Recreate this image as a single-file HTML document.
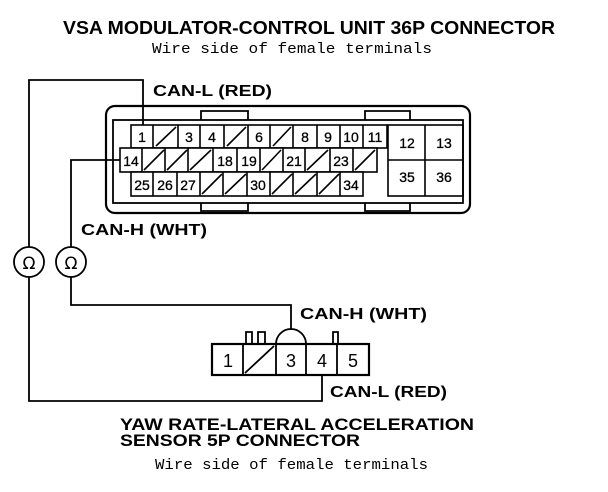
<!DOCTYPE html>
<html><head><style>
body{margin:0;background:#fff;}
svg{display:block}
.b{font-family:"Liberation Sans",sans-serif;font-weight:bold;}
.m{font-family:"Liberation Mono",monospace;}
</style></head><body>
<svg width="608" height="492" viewBox="0 0 608 492" xmlns="http://www.w3.org/2000/svg">
<g fill="#000">
<text x="63" y="34" class="b" font-size="18" textLength="492" lengthAdjust="spacingAndGlyphs">VSA MODULATOR-CONTROL UNIT 36P CONNECTOR</text>
<text x="152" y="53" class="m" font-size="15" textLength="280" lengthAdjust="spacingAndGlyphs">Wire side of female terminals</text>
<text x="153" y="96" class="b" font-size="16" textLength="119" lengthAdjust="spacingAndGlyphs">CAN-L (RED)</text>
<text x="81" y="235" class="b" font-size="16" textLength="126" lengthAdjust="spacingAndGlyphs">CAN-H (WHT)</text>
<text x="300" y="319" class="b" font-size="16" textLength="127" lengthAdjust="spacingAndGlyphs">CAN-H (WHT)</text>
<text x="330" y="397" class="b" font-size="16" textLength="117" lengthAdjust="spacingAndGlyphs">CAN-L (RED)</text>
<text x="120" y="430" class="b" font-size="17" textLength="354" lengthAdjust="spacingAndGlyphs">YAW RATE-LATERAL ACCELERATION</text>
<text x="120" y="446" class="b" font-size="17" textLength="240" lengthAdjust="spacingAndGlyphs">SENSOR 5P CONNECTOR</text>
<text x="155" y="469" class="m" font-size="15" textLength="273" lengthAdjust="spacingAndGlyphs">Wire side of female terminals</text>
</g>
<g fill="none" stroke="#000" stroke-width="2.2">
<rect x="106" y="106" width="364" height="107" rx="9"/>
<rect x="113" y="120" width="350" height="83" stroke-width="1.8"/>
</g>
<g stroke="#000" stroke-width="1.8">
<path d="M201 120V111H248V120M365 120V111H410V120M201 203V211H248V203M365 203V211H410V203" fill="none"/>
</g>
<g stroke="#000" stroke-width="1.6" fill="none">
<rect x="131" y="125" width="256" height="23"/>
<path d="M153 125V148M178 125V148M200 125V148M224 125V148M248 125V148M270 125V148M293 125V148M317 125V148M340 125V148M363 125V148"/>
<path d="M156 146L176 127M227 146L246 127M273 146L291 127"/>
<rect x="120" y="148" width="257" height="24" fill="#fff"/>
<path d="M142 148V172M165 148V172M188 148V172M213 148V172M237 148V172M260 148V172M283 148V172M305 148V172M330 148V172M353 148V172"/>
<path d="M144 170L164 150M167 170L187 150M190 170L211 150M262 170L281 150M307 170L328 150M355 170L375 150"/>
<rect x="131" y="172" width="232" height="24" fill="#fff"/>
<path d="M153 172V196M177 172V196M200 172V196M223 172V196M247 172V196M270 172V196M293 172V196M317 172V196M340 172V196"/>
<path d="M202 194L222 174M225 194L246 174M272 194L292 174M295 194L316 174M319 194L339 174"/>
<rect x="388" y="125" width="75" height="71"/>
<path d="M425 125V196M388 160H463"/>
</g>
<g font-family="Liberation Sans,sans-serif" font-size="14" text-anchor="middle" fill="#000" stroke="#000" stroke-width="0.3">
<text x="142" y="142">1</text><text x="189" y="142">3</text><text x="212" y="142">4</text><text x="259" y="142">6</text><text x="305" y="142">8</text><text x="328" y="142">9</text><text x="351" y="142">10</text><text x="375" y="142">11</text>
<text x="131" y="166">14</text><text x="225" y="166">18</text><text x="249" y="166">19</text><text x="294" y="166">21</text><text x="341" y="166">23</text>
<text x="142" y="190">25</text><text x="165" y="190">26</text><text x="188" y="190">27</text><text x="258" y="190">30</text><text x="351" y="190">34</text>
<text x="407" y="148">12</text><text x="444" y="148">13</text><text x="407" y="182">35</text><text x="444" y="182">36</text>
</g>
<g stroke="#000" stroke-width="1.8" fill="none">
<path d="M246 344V332H252V344M258 344V332H265V344M333 344V332H338V344"/>
<path d="M276 344A15 15 0 0 1 306 344" fill="#fff"/>
<rect x="212" y="344" width="157" height="31" stroke-width="2.2"/>
<path d="M243 344V375M276 344V375M306 344V375M337 344V375M245 373L274 346"/>
</g>
<g font-family="Liberation Sans,sans-serif" font-size="18" text-anchor="middle" fill="#000">
<text x="228" y="367">1</text><text x="291" y="367">3</text><text x="322" y="367">4</text><text x="353" y="367">5</text>
</g>
<g stroke="#000" stroke-width="1.8" fill="none">
<path d="M143 125V80H29V247"/>
<path d="M29 277V401H322V375"/>
<path d="M120 160H71V247"/>
<path d="M71 277V305H291V330"/>
<circle cx="29" cy="262" r="15"/>
<circle cx="71" cy="262" r="15"/>
</g>
<g font-family="DejaVu Sans,sans-serif" font-size="17" text-anchor="middle" fill="#000">
<text x="29" y="269">Ω</text><text x="71" y="269">Ω</text>
</g>
</svg>
</body></html>
